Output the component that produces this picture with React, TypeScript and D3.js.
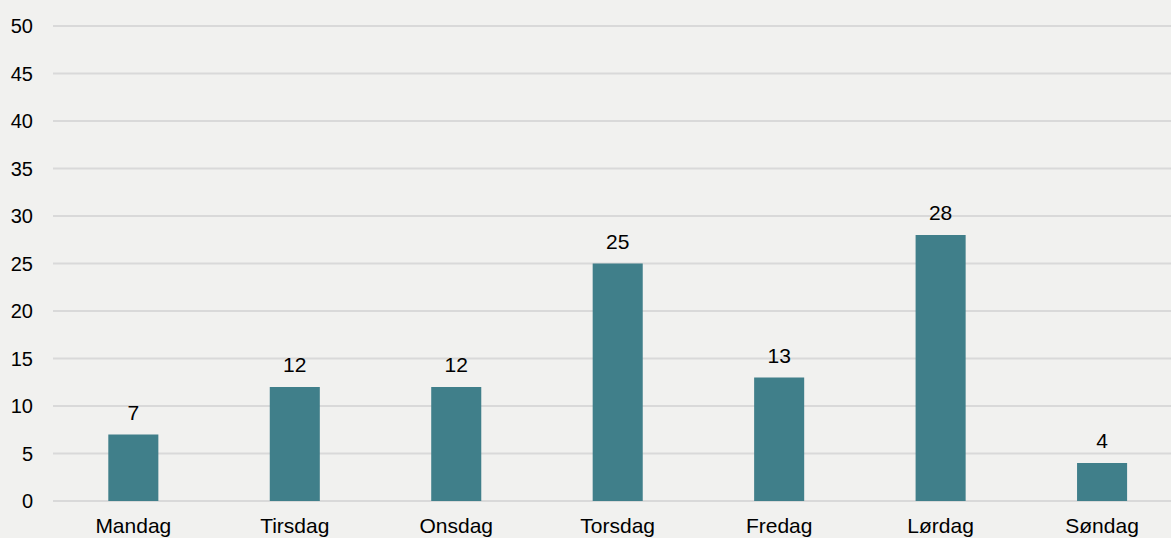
import React from 'react';
import * as d3 from 'd3';

const days = ['Mandag', 'Tirsdag', 'Onsdag', 'Torsdag', 'Fredag', 'Lørdag', 'Søndag'];
const counts = [7, 12, 12, 25, 13, 28, 4];
const yTicks = [0, 5, 10, 15, 20, 25, 30, 35, 40, 45, 50];

export default function App() {
  const width = 1171;
  const height = 538;
  const font = '"Liberation Sans", Arial, sans-serif';

  const x = d3.scaleBand().domain(days).range([52.6, 1182.8]).paddingInner(0.69).paddingOuter(0.345);
  const y = d3.scaleLinear().domain([0, 50]).range([501, 26]);

  return (
    <div style={{ position: 'fixed', left: 0, top: 0 }}>
      <svg width={width} height={height} style={{ display: 'block', background: '#f1f1ef' }}>
        {/* gridlines */}
        {yTicks.map((t) => (
          <g key={t}>
            <line x1={53} x2={width} y1={y(t)} y2={y(t)} stroke="#d9d9d9" strokeWidth={2} />
            <text x={33} y={y(t)} dy="0.36em" textAnchor="end" fontFamily={font} fontSize={20} fill="#000">
              {t}
            </text>
          </g>
        ))}
        {/* bars */}
        {days.map((d, i) => (
          <g key={d}>
            <rect x={x(d)} y={y(counts[i])} width={x.bandwidth()} height={y(0) - y(counts[i])} fill="#407f8a" />
            <text
              x={(x(d) || 0) + x.bandwidth() / 2}
              y={y(counts[i]) - 15}
              textAnchor="middle"
              fontFamily={font}
              fontSize={21}
              fill="#000"
            >
              {counts[i]}
            </text>
            <text
              x={(x(d) || 0) + x.bandwidth() / 2}
              y={533}
              textAnchor="middle"
              fontFamily={font}
              fontSize={21}
              fill="#000"
            >
              {d}
            </text>
          </g>
        ))}
      </svg>
    </div>
  );
}
